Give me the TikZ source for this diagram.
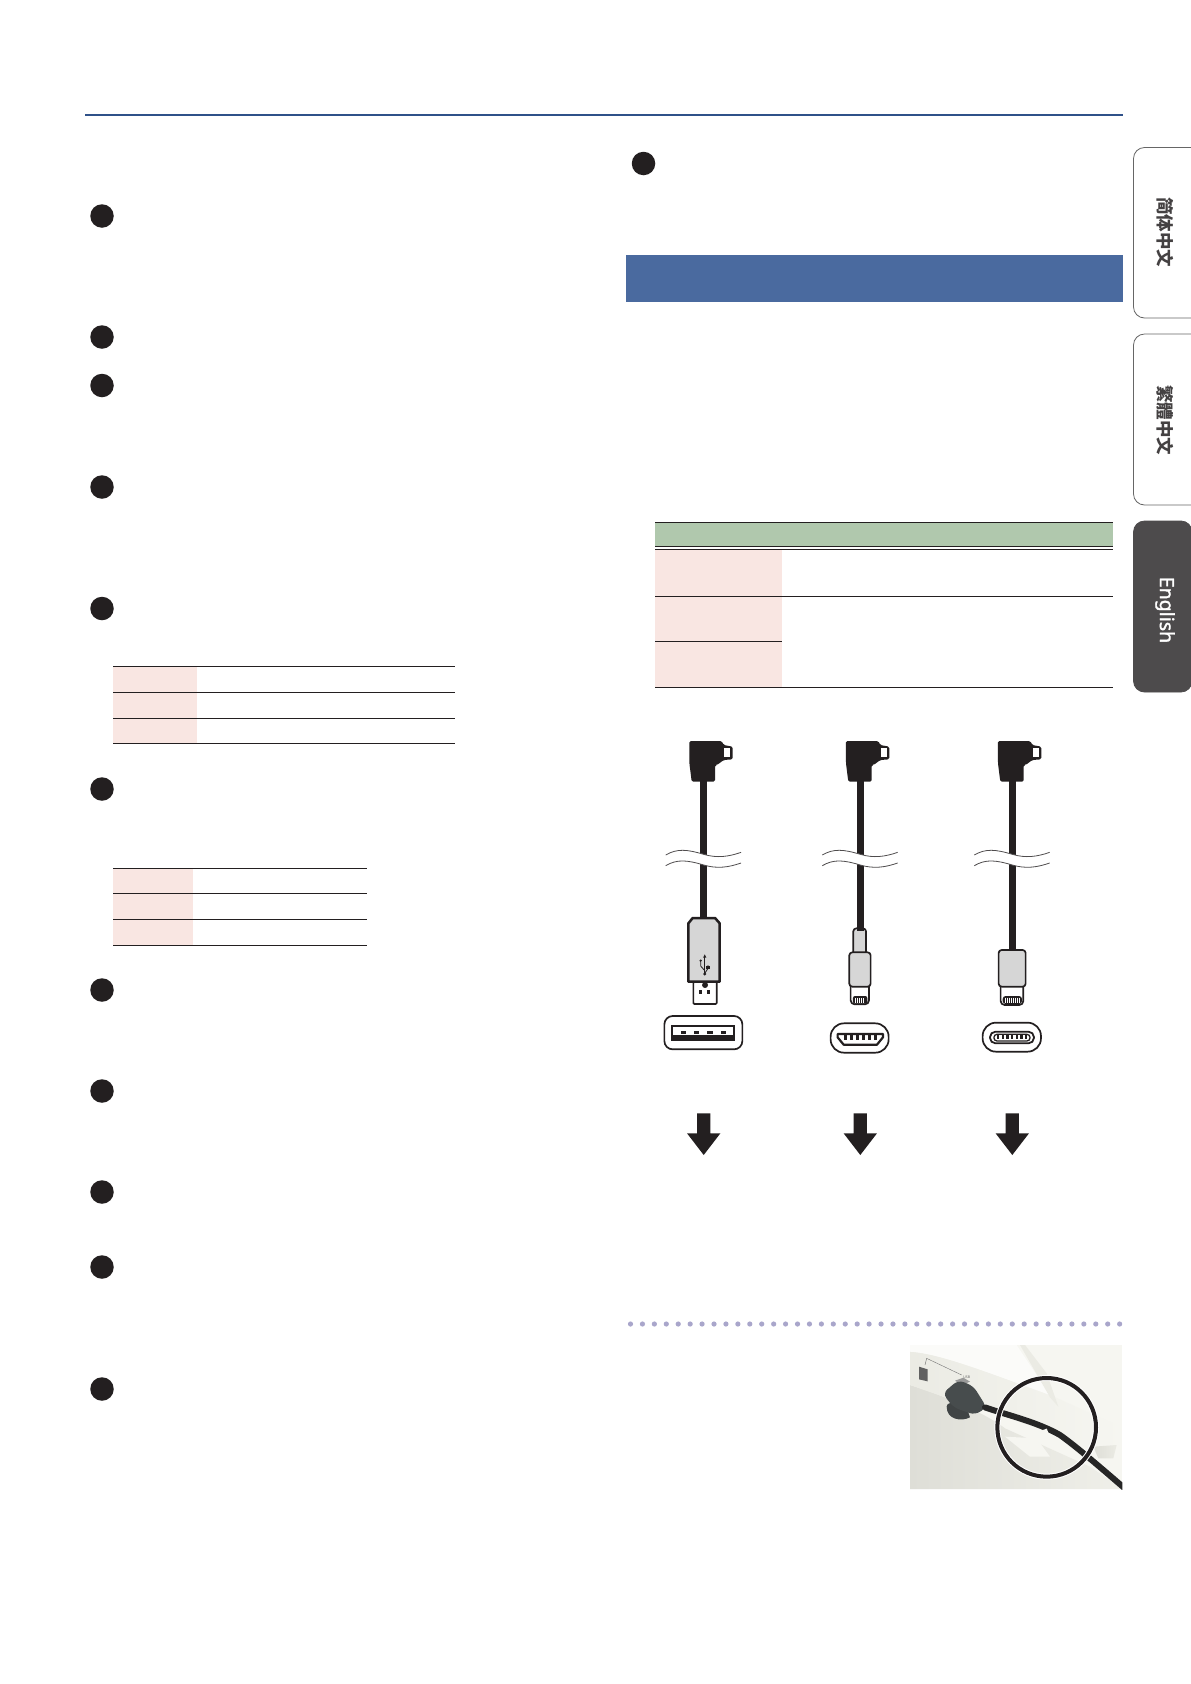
\documentclass[tikz,border=0pt]{standalone}
\usepackage{fontspec}
\setmainfont{Noto Sans}
\newfontfamily\engbold[FakeBold=1.6]{Noto Sans}
\newfontfamily\cjksc{Noto Sans CJK SC}
\newfontfamily\cjktc{Noto Sans CJK TC}
\definecolor{ink}{HTML}{231F20}
\definecolor{rule}{HTML}{2F5189}
\definecolor{headblue}{HTML}{4A6A9F}
\definecolor{pinkcell}{HTML}{F9E6E2}
\definecolor{greencell}{HTML}{B0C8AD}
\definecolor{tabdark}{HTML}{4D4B4C}
\definecolor{tabline}{HTML}{666666}
\definecolor{plugfill}{HTML}{D6D6D6}
\definecolor{dotcol}{HTML}{A9A6CB}
\definecolor{photolight}{HTML}{F6F6F1}
\definecolor{photomid}{HTML}{EBEBE4}
\definecolor{photodark}{HTML}{DEDED7}
\definecolor{slate}{HTML}{474C4D}
\tikzset{
  bullet/.style={circle,fill=ink,minimum size=23.5pt,inner sep=0pt},
  tablerule/.style={draw=ink,line width=0.75pt},
  pinkbox/.style={fill=pinkcell,draw=none},
  tabshape/.style={draw=tabline,line width=0.8pt,rounded corners=11pt,fill=white},
  tabtext/.style={rotate=-90,text=ink!85,font=\bfseries\fontsize{17.5}{18}\selectfont,inner sep=0pt},
  unitscope/.style={x=0.33333pt,y=-0.33333pt},
  plugline/.style={draw=ink,line width=1.7pt,line join=round},
  breakline/.style={draw=ink!80,line width=0.8pt},
}
\newcommand{\cabletop}[1]{%
  \fill[ink,rounded corners=1.5pt] (-43,63) -- (54,63) -- (60,75) -- (87,80) -- (87,118) -- (60,120) -- (40,135) -- (34,135) -- (34,185) -- (-36,185) -- (-43,130) -- cycle;
  \fill[white] (61,85) rectangle (79,112);
  \fill[ink] (-11,180) rectangle (11,#1);
  \fill[white] (-114,405) .. controls (-80,385) and (-50,388) .. (0,403) .. controls (40,415) and (75,410) .. (112,397)
     -- (112,429) .. controls (75,442) and (40,447) .. (0,435) .. controls (-50,420) and (-80,417) .. (-114,437) -- cycle;
  \draw[breakline] (-114,405) .. controls (-80,385) and (-50,388) .. (0,403) .. controls (40,415) and (75,410) .. (112,397);
  \draw[breakline] (-114,437) .. controls (-80,417) and (-50,420) .. (0,435) .. controls (40,447) and (75,442) .. (112,429);
  \fill[ink] (-20,1180) -- (20,1180) -- (20,1240) -- (50,1240) -- (0,1305) -- (-50,1240) -- (-20,1240) -- cycle;
}
\begin{document}
\begin{tikzpicture}[x=1pt,y=-1pt]
\useasboundingbox (0,0) rectangle (1191,1684);
\fill[white] (0,0) rectangle (1191,1684);
% top rule and blue header
\draw[rule,line width=2.8pt] (85,115) -- (1123,115);
\fill[headblue] (626,254.5) rectangle (1123,302);
% bullets
\node[bullet] (b1) at (102,216) {};
\node[bullet] (b2) at (102,337) {};
\node[bullet] (b3) at (102,385.5) {};
\node[bullet] (b4) at (102,487) {};
\node[bullet] (b5) at (102,608.5) {};
\node[bullet] (b6) at (102,789) {};
\node[bullet] (b7) at (102,990) {};
\node[bullet] (b8) at (102,1091) {};
\node[bullet] (b9) at (102,1192) {};
\node[bullet] (b10) at (102,1267) {};
\node[bullet] (b11) at (102,1389) {};
\node[bullet] (b12) at (643.5,163.5) {};
% table 1
\fill[pinkbox] (113,666.3) rectangle (196.7,743.3);
\foreach \yy in {666.3,692.3,718.3,743.3} \draw[tablerule] (113,\yy) -- (455,\yy);
% table 2
\fill[pinkbox] (113,868) rectangle (192.7,945.3);
\foreach \yy in {868,893.3,919.3,945.3} \draw[tablerule] (113,\yy) -- (366.7,\yy);
% table 3
\fill[greencell] (655,522.3) rectangle (1112.7,546.3);
\fill[pinkbox] (655,549.3) rectangle (782,687.3);
\foreach \yy in {522.3,546.3,549.3,596.3,687.3} \draw[tablerule] (655,\yy) -- (1112.7,\yy);
\draw[tablerule] (655,641.3) -- (782,641.3);
% side tabs
\draw[tabshape] (1192,147.5) -- (1133.5,147.5) -- (1133.5,318) -- (1192,318);
\draw[tabshape] (1192,334) -- (1133.5,334) -- (1133.5,505) -- (1192,505);
\draw[tabshape,fill=tabdark,draw=tabdark] (1192,521) -- (1133.5,521) -- (1133.5,692) -- (1192,692) -- cycle;
\node[tabtext] (t1) at (1165,232) {\cjksc 简体中文};
\node[tabtext] (t2) at (1165,420) {\cjktc 繁體中文};
\node[tabtext,text=white,font=\engbold\fontsize{19.5}{22}\selectfont] (t3) at (1165,610) {English};
% USB-A cable
\begin{scope}[shift={(703.7,720)},unitscope]
  \cabletop{592}
  \draw[plugline,fill=white,rounded corners=1pt] (-31,785) rectangle (39,852);
  \fill[ink] (-14,811) rectangle (-5,821);
  \fill[ink] (11,811) rectangle (20,821);
  \draw[plugline,fill=plugfill,line width=2.5pt] (-46,610) -- (-33,594) -- (34,594) -- (48,610) -- (48,785) -- (-46,785) -- cycle;
  \fill[ink] (4,795) circle (9);
  \draw[ink,line width=0.8pt] (3,708) -- (3,762);
  \draw[ink,line width=0.8pt] (3,752) -- (-9,738) -- (-9,726);
  \draw[ink,line width=0.8pt] (3,760) -- (13,745) -- (13,735);
  \fill[ink] (3,703) -- (-2,713) -- (8,713) -- cycle;
  \fill[ink] (-9,722) circle (4);
  \fill[ink] (8,738) rectangle (18,748);
  \fill[ink] (3,762) circle (5);
  \draw[plugline] (-118,913) arc[start angle=180,end angle=270,radius=25] -- (91,888) arc[start angle=270,end angle=360,radius=25] -- (116,963) arc[start angle=0,end angle=90,radius=25] -- (-93,988) arc[start angle=90,end angle=180,radius=25] -- cycle;
  \draw[ink,line width=2pt] (-94,917) rectangle (92,960);
  \fill[ink] (-94,945) rectangle (92,960);
  \foreach \xx in {-61,-21,19,59} \fill[ink] (\xx-8,934) rectangle (\xx+8,941);
\end{scope}
% micro-B cable
\begin{scope}[shift={(860.3,720)},unitscope]
  \cabletop{630}
  \draw[plugline,fill=plugfill,rounded corners=3pt] (-21,625) -- (17,625) -- (17,705) -- (-21,705) -- cycle;
  \fill[ink] (-11,620) rectangle (11,632);
  \draw[plugline,fill=white,rounded corners=4pt] (-29,790) -- (-29,853) -- (26,853) -- (26,790);
  \fill[ink,rounded corners=2pt] (-22,828) rectangle (21,851);
  \foreach \xx in {-14,-8,...,14} \draw[white,line width=0.4pt] (\xx,834) -- (\xx,848);
  \draw[plugline,fill=plugfill,rounded corners=3pt] (-33,697) -- (31,697) -- (31,800) -- (-33,800) -- cycle;
  \draw[plugline] (-89,950) arc[start angle=180,end angle=270,radius=40] -- (45,910) arc[start angle=270,end angle=360,radius=40] -- (85,958) arc[start angle=0,end angle=90,radius=40] -- (-49,998) arc[start angle=90,end angle=180,radius=40] -- cycle;
  \draw[ink,line width=2.2pt,line join=round,fill=white] (-68,942) -- (68,942) -- (68,952) -- (50,974) -- (-50,974) -- (-68,952) -- cycle;
  \foreach \xx in {-45,-27,-9,9,27,45} \fill[ink] (\xx-5,946) rectangle (\xx+5,960);
\end{scope}
% USB-C cable
\begin{scope}[shift={(1012.3,720)},unitscope]
  \cabletop{695}
  \draw[plugline,fill=white,rounded corners=4pt] (-35,790) -- (-35,855) -- (33,855) -- (33,790);
  \fill[ink,rounded corners=3pt] (-29,828) rectangle (29,852);
  \foreach \xx in {-21,-15,...,21} \draw[white,line width=0.5pt] (\xx,833) -- (\xx,848);
  \draw[plugline,fill=plugfill,rounded corners=3pt] (-41,690) -- (40,690) -- (40,800) -- (-41,800) -- cycle;
  \draw[plugline] (-89,948) arc[start angle=180,end angle=270,radius=40] -- (46,908) arc[start angle=270,end angle=360,radius=40] -- (86,955) arc[start angle=0,end angle=90,radius=40] -- (-49,995) arc[start angle=90,end angle=180,radius=40] -- cycle;
  \draw[ink,line width=1.8pt,fill=white,rounded corners=5.5pt] (-67,935) rectangle (65,970);
  \draw[ink,line width=1.3pt,fill=white,rounded corners=3pt] (-55,943) rectangle (53,963);
  \foreach \xx in {-42,-28,...,42} \fill[ink] (\xx-3.5,946) rectangle (\xx+3.5,958);
\end{scope}
% dotted separator
\foreach \i in {0,...,41} \fill[dotcol] ({630.5+\i*11.93},1324) circle (2.6);
% photo
\begin{scope}[shift={(890,1310)},unitscope]
  \clip (60,105) rectangle (697,537);
  \fill[photolight] (60,105) rectangle (697,537);
  % underside, darker to the left
  \shade[left color=photodark,right color=photomid!60!photolight] (60,225) .. controls (200,270) and (300,320) .. (345,355) -- (600,470) -- (697,537) -- (60,537) -- cycle;
  % body band
  \shade[left color=photomid,right color=photolight] (60,125) .. controls (150,130) and (300,190) .. (480,255) .. controls (560,290) and (640,330) .. (697,350) -- (697,385) -- (640,435) -- (560,400) .. controls (450,350) and (300,310) .. (60,225) -- cycle;
  % upper surface
  \fill[white!60!photolight] (60,105) -- (380,105) -- (480,255) .. controls (300,190) and (150,130) .. (60,125) -- cycle;
  \fill[photomid] (390,105) -- (405,105) -- (470,190) -- (505,290) -- (480,262) -- cycle;
  % bump under the cable
  \fill[photolight] (345,380) -- (440,385) -- (480,440) -- (420,440) -- cycle;
  \shade[left color=photodark,right color=photomid] (610,410) -- (680,405) -- (670,445) -- (625,445) -- cycle;
  \draw[black!55,line width=0.4pt] (105,165) -- (110,145) -- (215,195);
  \node[text=black!60,font=\fontsize{3.5}{4}\selectfont,inner sep=0pt] (usblabel) at (230,203) {USB};
  \fill[black!62] (87,170) -- (113,178) -- (113,214) -- (87,208) -- cycle;
  \fill[black!40] (195,212) -- (220,203) -- (240,215) -- (215,225) -- cycle;
  \fill[slate!90!black] (170,290) .. controls (170,265) and (235,285) .. (240,322) .. controls (215,335) and (170,330) .. (170,290) -- cycle;
  \fill[slate,rounded corners=6pt] (158,250) -- (205,210) -- (250,228) -- (290,292) -- (255,315) -- (190,292) -- cycle;
  \draw[black!85,line width=6pt,line cap=round] (285,292) .. controls (350,315) and (440,335) .. (510,375) .. controls (560,410) and (640,480) .. (710,540);
  \fill[photolight,rotate around={20:(455,372)}] (435,362) rectangle (475,382);
  \draw[white,line width=6pt] (470,352) circle (148);
  \draw[ink,line width=4pt] (470,352) circle (148);
\end{scope}
\end{tikzpicture}
\end{document}
